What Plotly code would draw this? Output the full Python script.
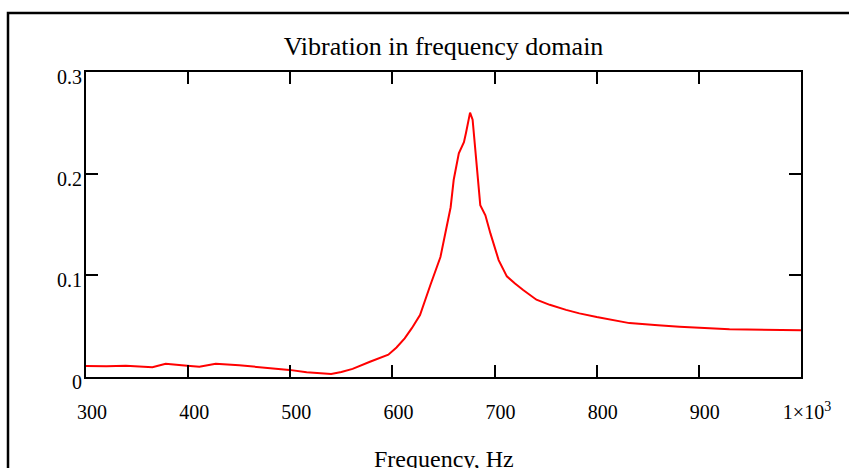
import plotly.graph_objects as go

# Frequency (Hz) and vibration amplitude
freq = [300, 320, 339, 352, 365, 378, 390, 399, 411, 427, 450, 477, 499, 516,
        529, 540, 550, 561, 578, 596, 604, 612, 619, 627, 637, 647, 657, 660,
        665, 670, 672, 674, 676, 678.5, 681, 683.5, 686, 691, 696, 704, 712,
        720, 728, 741, 754, 770, 783, 800, 832, 860, 881, 930, 979, 1000]
amp = [0.0108, 0.0105, 0.011, 0.0105, 0.0095, 0.013, 0.0115, 0.011, 0.010,
       0.013, 0.0115, 0.009, 0.007, 0.0046, 0.0036, 0.003, 0.005, 0.008,
       0.015, 0.022, 0.029, 0.038, 0.048, 0.061, 0.090, 0.118, 0.167, 0.194,
       0.220, 0.231, 0.240, 0.252, 0.260, 0.253, 0.223, 0.194, 0.169, 0.159,
       0.141, 0.115, 0.099, 0.092, 0.0855, 0.076, 0.071, 0.066, 0.0626, 0.059,
       0.053, 0.051, 0.0495, 0.047, 0.046, 0.046]

x_ticks = [300, 400, 500, 600, 700, 800, 900, 1000]
x_ticktext = ["300", "400", "500", "600", "700", "800", "900", "1×10<sup>3</sup>"]
y_ticks = [0, 0.1, 0.2, 0.3]
y_ticktext = ["0", "0.1", "0.2", "0.3"]

FONT = "Liberation Serif, Times New Roman, serif"
W, H = 849, 468
L, R, T, B = 86, 48, 72, 91
pw, ph = W - L - R, H - T - B

fig = go.Figure()
fig.add_trace(go.Scatter(x=freq, y=amp, mode="lines",
                         line=dict(color="#ff0000", width=2), showlegend=False))

axis_common = dict(showline=True, linecolor="black", linewidth=2, mirror="allticks",
                   ticks="inside", ticklen=12, tickwidth=2, tickcolor="black",
                   showgrid=False, zeroline=False,
                   tickfont=dict(family=FONT, size=20, color="black"))

fig.update_xaxes(range=[300, 1000], tickvals=x_ticks, ticktext=x_ticktext,
                 ticklabelstandoff=16, ticklabelshift=6, **axis_common)
fig.update_yaxes(range=[0, 0.3], tickvals=y_ticks, ticktext=y_ticktext,
                 ticklabelstandoff=-2, ticklabelshift=5, **axis_common)

# outer frame (extends beyond the visible area at right/bottom)
fig.add_shape(type="rect", xref="paper", yref="paper",
              x0=(8 - L) / pw, x1=(W + 20 - L) / pw,
              y0=(H - B - (H + 20)) / ph, y1=(H - B - 13) / ph,
              line=dict(color="black", width=2.5), fillcolor="rgba(0,0,0,0)",
              layer="below")

fig.add_annotation(text="Frequency, Hz", xref="paper", yref="paper",
                   x=0.5, y=(H - B - 444) / ph, xanchor="center", yanchor="top",
                   showarrow=False, font=dict(family=FONT, size=24, color="black"))

fig.update_layout(
    width=W, height=H,
    margin=dict(l=L, r=R, t=T, b=B),
    paper_bgcolor="white", plot_bgcolor="white",
    title=dict(text="Vibration in frequency domain", x=0.5, xref="paper",
               xanchor="center", y=1 - 46 / H, yref="container", yanchor="middle",
               font=dict(family=FONT, size=26, color="black")),
)

fig.write_html("out.html")
